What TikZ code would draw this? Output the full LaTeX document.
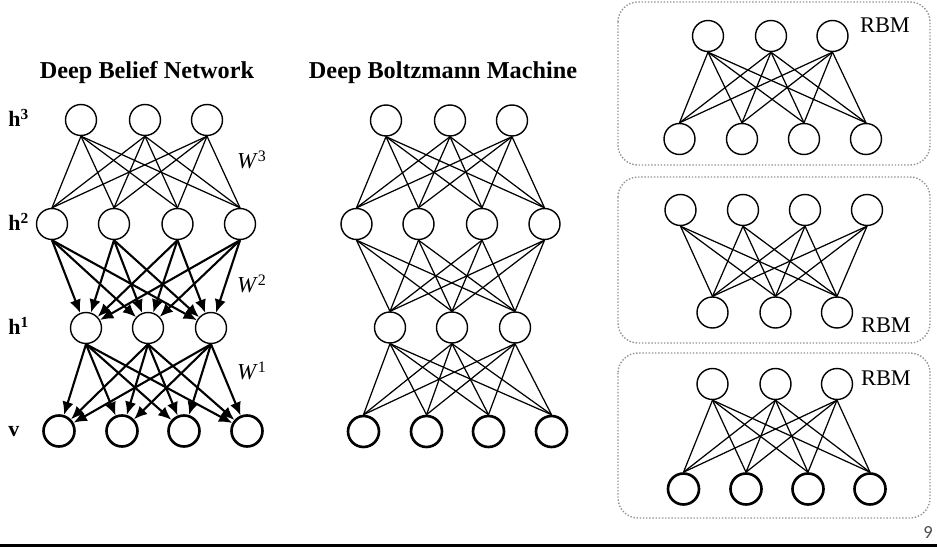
\documentclass[tikz,border=0pt]{standalone}
\usepackage{fontspec}
\setmainfont{Liberation Serif}
\newfontfamily\pagefont{Carlito}
\usetikzlibrary{arrows.meta}

\begin{document}
\begin{tikzpicture}[x=0.02cm, y=-0.02cm,
                    unit/.style={draw, circle, minimum size=0.62cm, inner sep=0pt, line width=0.8pt},
                    vis/.style={unit, line width=1.5pt},
                    link/.style={line width=0.7pt},
                    arr/.style={line width=1.2pt, -{Latex[length=7.5pt, width=6.5pt]}},
                    ttl/.style={font=\fontsize{13.8}{16}\selectfont\bfseries},
                    lyr/.style={anchor=west, inner sep=0pt, font=\fontsize{12.5}{15}\selectfont\bfseries},
                    wt/.style={font=\fontsize{13}{15}\selectfont},
                    rbm/.style={draw=gray!85, densely dotted, line width=0.8pt, rounded corners=0.4cm},
                    tag/.style={font=\fontsize{12.75}{15}\selectfont}]
                \useasboundingbox (0,0) rectangle (937,547);

                \node[ttl] (tdbn) at (147,73) {Deep Belief Network};
                \node[ttl] (tdbm) at (443,73) {Deep Boltzmann Machine};

                \node[lyr] (lh3) at (8,118) {h\textsuperscript{3}};
                \node[lyr] (lh2) at (8,222) {h\textsuperscript{2}};
                \node[lyr] (lh1) at (8,326) {h\textsuperscript{1}};
                \node[lyr] (lv) at (8,432) {v};

                \node[wt] (w3) at (252,160) {\textit{W}\textsuperscript{3}};
                \node[wt] (w2) at (252,284) {\textit{W}\textsuperscript{2}};
                \node[wt] (w1) at (252,371) {\textit{W}\textsuperscript{1}};

                \foreach \i/\x in {1/81, 2/145, 3/207}{
                        \node[unit] (bh3\i) at (\x,120) {};
                        \node[unit] (mh3\i) at (\x+305,120.5) {};
                    }
                \foreach \i/\x in {1/52, 2/114, 3/177.5, 4/240}{
                        \node[unit] (bh2\i) at (\x,224) {};
                        \node[unit] (mh2\i) at (\x+304.5,224) {};
                    }
                \foreach \i/\x in {1/86, 2/148, 3/211}{
                        \node[unit] (bh1\i) at (\x,328) {};
                        \node[unit] (mh1\i) at (\x+304,327.5) {};
                    }
                \foreach \i/\x in {1/59, 2/122, 3/184, 4/247}{
                        \node[vis] (bv\i) at (\x,431) {};
                        \node[vis] (mv\i) at (\x+304.5,431.5) {};
                    }

                \foreach \i in {1,2,3}
                    \foreach \j in {1,2,3,4}{
                            \draw[link] (bh3\i.south) -- (bh2\j.north);
                            \draw[arr] (bh2\j.south) -- (bh1\i);
                            \draw[arr] (bh1\i.south) -- (bv\j);
                            \draw[link] (mh3\i.south) -- (mh2\j.north);
                            \draw[link] (mh2\j.south) -- (mh1\i.north);
                            \draw[link] (mh1\i.south) -- (mv\j.north);
                        }

                \draw[rbm] (618,2) rectangle (930,165);
                \draw[rbm] (618,177) rectangle (930,343);
                \draw[rbm] (618,353) rectangle (930,518);
                \node[tag] (tag1) at (885,25) {RBM};
                \node[tag] (tag2) at (886,325) {RBM};
                \node[tag] (tag3) at (886,378) {RBM};

                \foreach \i/\x in {1/708, 2/771, 3/832.5}{
                        \node[unit] (ra\i) at (\x,36) {};
                        \node[unit] (rc\i) at (\x+4.5,384) {};
                        \node[unit] (rd\i) at (\x+4.5,312.5) {};
                    }
                \foreach \j/\x in {1/679.5, 2/742, 3/804, 4/866}{
                        \node[unit] (rb\j) at (\x,139) {};
                        \node[unit] (re\j) at (\x+1,210) {};
                        \node[vis] (rf\j) at (\x+4,489) {};
                    }
                \foreach \i in {1,2,3}
                    \foreach \j in {1,2,3,4}{
                            \draw[link] (ra\i.south) -- (rb\j.north);
                            \draw[link] (re\j.south) -- (rd\i.north);
                            \draw[link] (rc\i.south) -- (rf\j.north);
                        }

                \draw[line width=1.7pt] (0,545.6) -- (937,545.6);
                \node[font=\pagefont\fontsize{10.5}{12}\selectfont, text=black!70] (pg) at (928,533) {9};
            \end{tikzpicture}
\end{document}
